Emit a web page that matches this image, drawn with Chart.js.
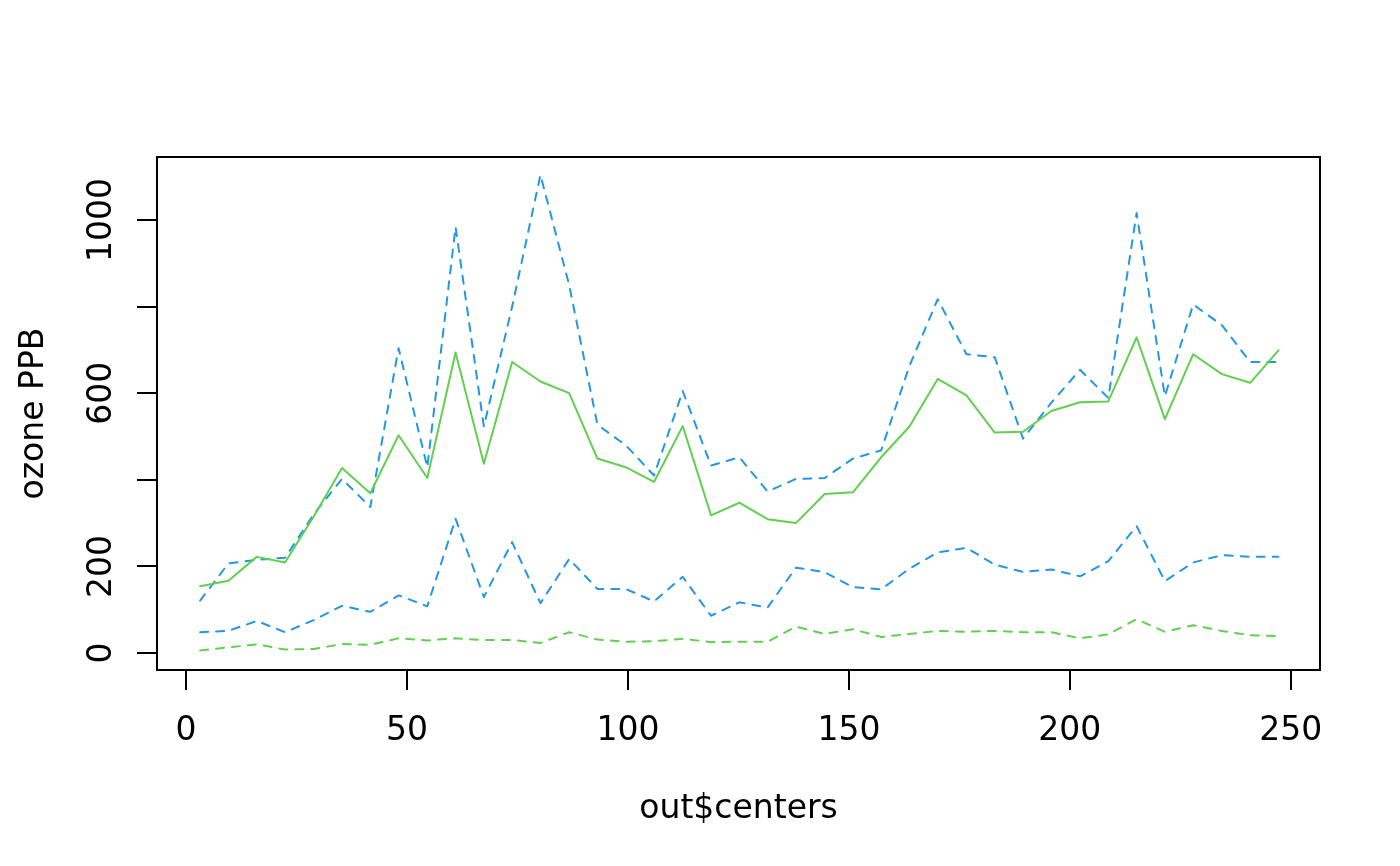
<!DOCTYPE html>
<html>
<head>
<meta charset="utf-8">
<script src="https://cdn.jsdelivr.net/npm/chart.js@4/dist/chart.umd.min.js"></script>
<style>
html,body{margin:0;padding:0;background:#fff;}
#c{display:block;}
</style>
</head>
<body>
<canvas id="c" width="1400" height="866"></canvas>
<script>
// ---- data ----
const centers = [3.2, 9.6, 16.0, 22.4, 28.9, 35.3, 41.7, 48.1, 54.6, 61.0, 67.4, 73.8, 80.2, 86.7, 93.1, 99.5, 105.9, 112.4, 118.8, 125.2, 131.6, 138.0, 144.5, 150.9, 157.3, 163.7, 170.1, 176.6, 183.0, 189.4, 195.8, 202.3, 208.7, 215.1, 221.5, 227.9, 234.4, 240.8, 247.2];
const greenSolid = [154,167,222,209,315,427,369,503,404,694,437,672,627,600,449,429,395,524,318,347,309,300,367,371,452,523,633,595,509,511,559,579,581,729,540,690,644,624,699];
const blueUpper = [121,207,215,220,320,402,337,704,429,984,523,800,1104,850,527,480,410,605,433,452,373,402,404,449,468,663,817,690,683,495,578,654,589,1016,593,805,757,672,672];
const blueLower = [48,51,74,48,76,109,95,133,108,310,129,256,115,217,148,148,119,176,86,117,105,197,187,152,147,195,232,243,204,187,193,177,212,293,166,209,226,222,222];
const greenLower = [6,13,20,8,9,21,19,34,29,34,30,30,23,48,31,26,27,33,25,26,26,61,44,55,37,44,51,49,51,48,48,34,43,78,49,64,51,41,39];

const xTicks = [0, 50, 100, 150, 200, 250];
const xTickLabels = ['0', '50', '100', '150', '200', '250'];
const yTicks = [0, 200, 400, 600, 800, 1000];
const yTickLabels = ['0', '200', '', '600', '', '1000'];
const xTitle = 'out$centers';
const yTitle = 'ozone PPB';

const GREEN = '#61D04F';
const BLUE = '#2297E6';
const FONT = '33px "DejaVu Sans"';

function pts(ys) { return centers.map((x, i) => ({x: x, y: ys[i]})); }

function ds(ys, color, dashed) {
  return {
    data: pts(ys),
    borderColor: color,
    borderWidth: 2,
    borderDash: dashed ? [8, 8] : [],
    borderCapStyle: 'round',
    borderJoinStyle: 'round',
    pointRadius: 0,
    tension: 0,
    fill: false
  };
}

const decor = {
  id: 'decor',
  afterDraw(chart) {
    const ctx = chart.ctx;
    const a = chart.chartArea;
    const xs = chart.scales.x, ys = chart.scales.y;
    ctx.save();
    // box
    ctx.strokeStyle = '#000';
    ctx.lineWidth = 2;
    ctx.strokeRect(a.left, a.top, a.right - a.left, a.bottom - a.top);
    ctx.fillStyle = '#000';
    ctx.font = FONT;
    // x tick labels
    ctx.textAlign = 'center';
    ctx.textBaseline = 'alphabetic';
    xTicks.forEach((v, i) => {
      ctx.fillText(xTickLabels[i], xs.getPixelForValue(v), 740);
    });
    // x title
    ctx.fillText(xTitle, (a.left + a.right) / 2, 818);
    // y tick labels (rotated)
    yTicks.forEach((v, i) => {
      if (!yTickLabels[i]) return;
      ctx.save();
      ctx.translate(111, ys.getPixelForValue(v));
      ctx.rotate(-Math.PI / 2);
      ctx.fillText(yTickLabels[i], 0, 0);
      ctx.restore();
    });
    // y title
    ctx.save();
    ctx.translate(43, (a.top + a.bottom) / 2);
    ctx.rotate(-Math.PI / 2);
    ctx.fillText(yTitle, 0, 0);
    ctx.restore();
    ctx.restore();
  }
};

new Chart(document.getElementById('c'), {
  type: 'line',
  data: {
    datasets: [
      ds(greenSolid, GREEN, false),
      ds(blueUpper, BLUE, true),
      ds(blueLower, BLUE, true),
      ds(greenLower, GREEN, true)
    ]
  },
  options: {
    responsive: false,
    animation: false,
    devicePixelRatio: 1,
    layout: {padding: {top: 157, right: 80, left: 0, bottom: 0}},
    plugins: {legend: {display: false}, tooltip: {enabled: false}, title: {display: false}},
    scales: {
      x: {
        type: 'linear',
        min: -6.56,
        max: 256.6,
        afterBuildTicks: s => { s.ticks = xTicks.map(v => ({value: v})); },
        afterFit: s => { s.height = 196; },
        grid: {display: true, drawOnChartArea: false, drawTicks: true, tickLength: 20, color: '#000', lineWidth: 2},
        border: {display: false},
        ticks: {display: false}
      },
      y: {
        type: 'linear',
        min: -39.3,
        max: 1145.5,
        afterBuildTicks: s => { s.ticks = yTicks.map(v => ({value: v})); },
        afterFit: s => { s.width = 157; },
        grid: {display: true, drawOnChartArea: false, drawTicks: true, tickLength: 20, color: '#000', lineWidth: 2},
        border: {display: false},
        ticks: {display: false}
      }
    }
  },
  plugins: [decor]
});
</script>
</body>
</html>
